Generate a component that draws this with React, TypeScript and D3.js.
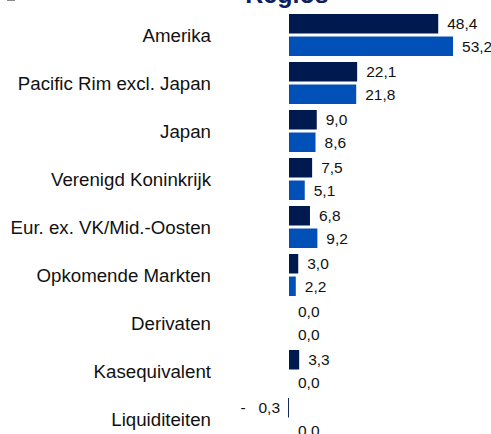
import { useEffect, useRef } from "react";
import * as d3 from "d3";

const categories = [
	"Amerika",
	"Pacific Rim excl. Japan",
	"Japan",
	"Verenigd Koninkrijk",
	"Eur. ex. VK/Mid.-Oosten",
	"Opkomende Markten",
	"Derivaten",
	"Kasequivalent",
	"Liquiditeiten",
];
const seriesA = [48.4, 22.1, 9.0, 7.5, 6.8, 3.0, 0.0, 3.3, -0.3];
const seriesB = [53.2, 21.8, 8.6, 5.1, 9.2, 2.2, 0.0, 0.0, 0.0];
const seriesKeys = ["a", "b"];
const title = "Regios";

const W = 491;
const H = 434;
const colors: Record<string, string> = { a: "#001a4f", b: "#0050b8" };

const fmt = (v: number) => {
	const s = Math.abs(v).toFixed(1).replace(".", ",");
	return v < 0 ? "-\u00a0\u00a0\u00a0" + s : s;
};

export default function App() {
	const ref = useRef<SVGSVGElement>(null);

	useEffect(() => {
		const svg = d3.select(ref.current);
		svg.selectAll("*").remove();

		const font = "'Liberation Sans', Arial, sans-serif";

		const y0 = d3.scaleBand<string>()
			.domain(categories)
			.range([11, 11 + 48 * categories.length])
			.paddingInner(0.125)
			.paddingOuter(0.0625);

		const y1 = d3.scaleBand<string>()
			.domain(seriesKeys)
			.range([0, y0.bandwidth()])
			.paddingInner(0.1333);

		const x = d3.scaleLinear().domain([0, 60]).range([289, 474]);

		// cut-off header bits
		svg.append("rect")
			.attr("x", 7).attr("y", -1)
			.attr("width", 8).attr("height", 2)
			.attr("fill", "#8a8a8a");

		svg.append("text")
			.attr("x", 287)
			.attr("y", 3)
			.attr("text-anchor", "middle")
			.attr("font-family", font)
			.attr("font-weight", "bold")
			.attr("font-size", "25px")
			.attr("fill", "#0b2060")
			.text(title);

		// category labels
		svg.append("g")
			.selectAll("text")
			.data(categories)
			.enter()
			.append("text")
			.attr("x", 211)
			.attr("y", d => y0(d)! + y0.bandwidth() / 2)
			.attr("dy", "0.35em")
			.attr("text-anchor", "end")
			.attr("font-family", font)
			.attr("font-size", "18.7px")
			.attr("fill", "#111")
			.text(d => d);

		const rows = categories.map((c, i) => ({ c, vals: [seriesA[i], seriesB[i]] }));

		const groups = svg.append("g")
			.selectAll("g")
			.data(rows)
			.enter()
			.append("g")
			.attr("transform", d => `translate(0,${y0(d.c)})`);

		const cells = groups.selectAll("g")
			.data(d => d.vals.map((v, k) => ({ key: seriesKeys[k], v })))
			.enter()
			.append("g");

		cells.filter(d => d.v !== 0)
			.append("rect")
			.attr("x", d => x(Math.min(0, d.v)))
			.attr("y", d => y1(d.key)!)
			.attr("width", d => Math.abs(x(d.v) - x(0)))
			.attr("height", y1.bandwidth())
			.attr("fill", d => colors[d.key]);

		cells.append("text")
			.attr("x", d => (d.v < 0 ? x(d.v) - 8 : x(d.v) + 9))
			.attr("y", d => y1(d.key)! + y1.bandwidth() / 2)
			.attr("dy", "0.35em")
			.attr("text-anchor", d => (d.v < 0 ? "end" : "start"))
			.attr("font-family", font)
			.attr("font-size", "15.5px")
			.attr("fill", "#111")
			.text(d => fmt(d.v));
	}, []);

	return (
		<svg
			ref={ref}
			width={W}
			height={H}
			style={{ position: "absolute", left: 0, top: 0, background: "#fff" }}
		/>
	);
}
